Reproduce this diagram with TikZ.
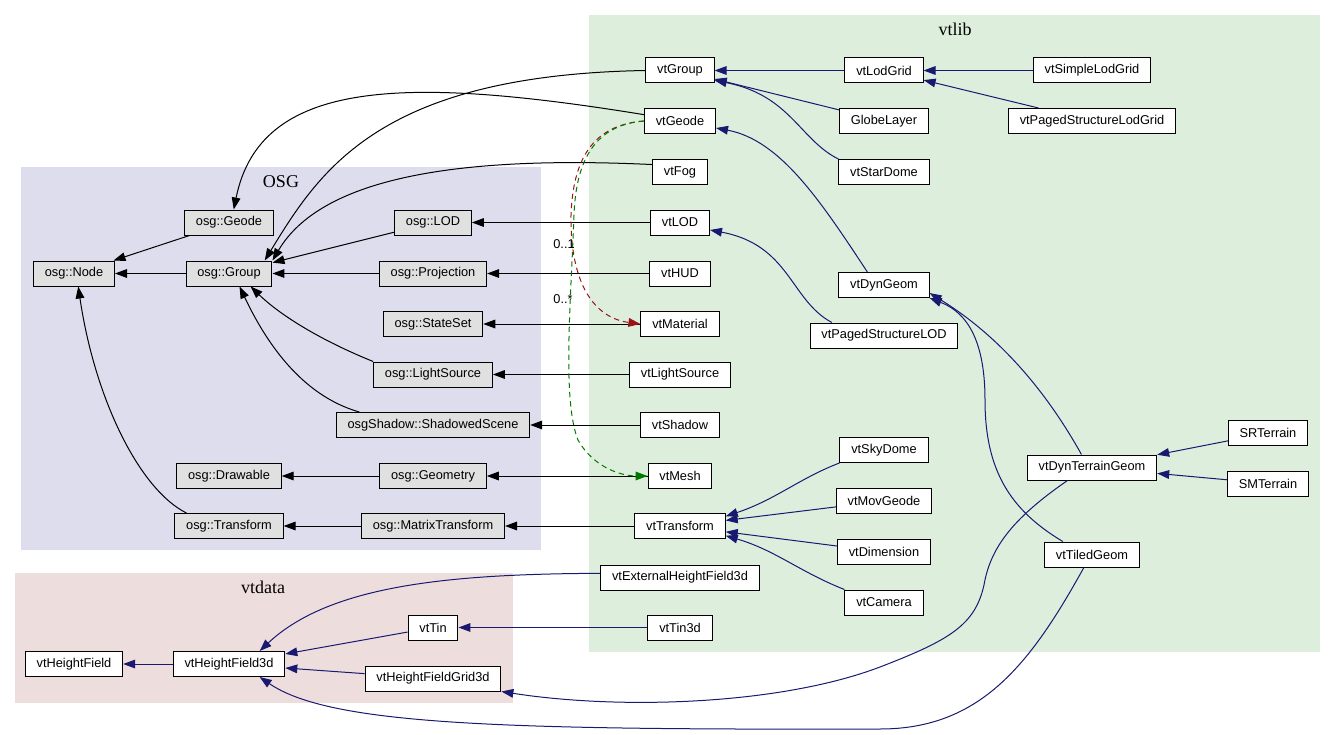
\documentclass[tikz,border=0pt]{standalone}
\usepackage{fontspec}
\setmainfont{Liberation Serif}
\setsansfont{Liberation Sans}
\usetikzlibrary{arrows.meta}
\definecolor{osgbg}{RGB}{221,221,238}
\definecolor{libbg}{RGB}{221,238,221}
\definecolor{databg}{RGB}{238,221,221}
\definecolor{osggray}{RGB}{224,224,224}
\definecolor{navy}{RGB}{25,25,112}
\definecolor{dred}{RGB}{150,20,20}
\definecolor{dgreen}{RGB}{0,120,0}

\begin{document}
\begin{tikzpicture}[
	x=0.75pt, y=-0.75pt,
	font=\sffamily\fontsize{9.6}{11}\selectfont,
	ob/.style={draw, fill=osggray, line width=0.75pt, inner xsep=8.5pt, inner ysep=0pt, minimum height=18.75pt},
	vb/.style={ob, fill=white},
	ca/.style={font=\rmfamily\fontsize{13.5}{15}\selectfont},
	ka/.style={-{Triangle[length=9pt,width=6.5pt]}, line width=0.75pt},
	ma/.style={ka, color=navy},
	ra/.style={ka, color=dred, dash pattern=on 4pt off 3pt},
	ga/.style={ka, color=dgreen, dash pattern=on 4pt off 3pt},
	]
\useasboundingbox (0,0) rectangle (1336,735);
\fill[osgbg] (21,167) rectangle (541,550);
\fill[libbg] (589,15) rectangle (1320,652);
\fill[databg] (15,573) rectangle (513,703);
\node[ca] (tOsg) at (281,182) {OSG};
\node[ca] (tLib) at (955,29) {vtlib};
\node[ca] (tData) at (263,587) {vtdata};

\node[ob] (osgNode) at (74,273.5) {osg::Node};
\node[ob] (osgGeode) at (229,222.5) {osg::Geode};
\node[ob] (osgGroup) at (229,273.5) {osg::Group};
\node[ob] (osgLOD) at (433,222.5) {osg::LOD};
\node[ob] (osgProjection) at (433,273.5) {osg::Projection};
\node[ob] (osgStateSet) at (433,324) {osg::StateSet};
\node[ob] (osgLightSource) at (433,374.5) {osg::LightSource};
\node[ob] (osgShadowedScene) at (433,425) {osgShadow::ShadowedScene};
\node[ob] (osgDrawable) at (229,476) {osg::Drawable};
\node[ob] (osgGeometry) at (433,476) {osg::Geometry};
\node[ob] (osgTransform) at (229,526) {osg::Transform};
\node[ob] (osgMatrixTransform) at (433,526) {osg::MatrixTransform};

\node[vb] (vtGroup) at (680,70.5) {vtGroup};
\node[vb] (vtGeode) at (680,121) {vtGeode};
\node[vb] (vtFog) at (680,172) {vtFog};
\node[vb] (vtLOD) at (680,222.5) {vtLOD};
\node[vb] (vtHUD) at (680,273.5) {vtHUD};
\node[vb] (vtMaterial) at (680,324) {vtMaterial};
\node[vb] (vtLightSource) at (680,374.5) {vtLightSource};
\node[vb] (vtShadow) at (680,425) {vtShadow};
\node[vb] (vtMesh) at (680,476) {vtMesh};
\node[vb] (vtTransform) at (680,526) {vtTransform};
\node[vb] (vtExternalHeightField3d) at (680,577.5) {vtExternalHeightField3d};
\node[vb] (vtTin3d) at (680,627.5) {vtTin3d};
\node[vb] (vtLodGrid) at (884,70.5) {vtLodGrid};
\node[vb] (GlobeLayer) at (884,121) {GlobeLayer};
\node[vb] (vtStarDome) at (884,172) {vtStarDome};
\node[vb] (vtDynGeom) at (884,285) {vtDynGeom};
\node[vb] (vtPagedStructureLOD) at (884,335.5) {vtPagedStructureLOD};
\node[vb] (vtSkyDome) at (884,450) {vtSkyDome};
\node[vb] (vtMovGeode) at (884,501) {vtMovGeode};
\node[vb] (vtDimension) at (884,552) {vtDimension};
\node[vb] (vtCamera) at (884,602.5) {vtCamera};
\node[vb] (vtSimpleLodGrid) at (1092,70.5) {vtSimpleLodGrid};
\node[vb] (vtPagedStructureLodGrid) at (1092,121) {vtPagedStructureLodGrid};
\node[vb] (vtDynTerrainGeom) at (1092,467.5) {vtDynTerrainGeom};
\node[vb] (vtTiledGeom) at (1092,554.5) {vtTiledGeom};
\node[vb] (SRTerrain) at (1268,433) {SRTerrain};
\node[vb] (SMTerrain) at (1268,483.5) {SMTerrain};

\node[vb] (vtHeightField) at (74,664) {vtHeightField};
\node[vb] (vtHeightField3d) at (229,664) {vtHeightField3d};
\node[vb] (vtTin) at (433,627.5) {vtTin};
\node[vb] (vtHeightFieldGrid3d) at (433,678.5) {vtHeightFieldGrid3d};

\foreach \a/\b in {osgGeode/osgNode, osgGroup/osgNode, osgLOD/osgGroup, osgProjection/osgGroup,
	osgGeometry/osgDrawable, osgMatrixTransform/osgTransform, vtLOD/osgLOD, vtHUD/osgProjection,
	vtMaterial/osgStateSet, vtLightSource/osgLightSource, vtShadow/osgShadowedScene,
	vtMesh/osgGeometry, vtTransform/osgMatrixTransform}
	\draw[ka] (\a) -- (\b);
\draw[ka] (vtGroup.west) .. controls (380,75) and (320,170) .. (osgGroup.20);
\draw[ka] (vtGeode.170) .. controls (400,75) and (260,80) .. (osgGeode.70);
\draw[ka] (vtFog.165) .. controls (450,155) and (320,180) .. (osgGroup.north east);
\draw[ka] (osgLightSource.north west) .. controls (320,340) and (280,315) .. (osgGroup.-31);
\draw[ka] (osgShadowedScene.170) .. controls (300,395) and (265,340) .. (osgGroup.-51);
\draw[ka] (osgTransform.163) .. controls (140,490) and (95,400) .. (osgNode.-72);

\foreach \a/\b in {vtLodGrid/vtGroup, GlobeLayer/vtGroup, vtSimpleLodGrid/vtLodGrid,
	vtPagedStructureLodGrid/vtLodGrid, SRTerrain/vtDynTerrainGeom, SMTerrain/vtDynTerrainGeom,
	vtMovGeode/vtTransform, vtDimension/vtTransform, vtTin/vtHeightField3d,
	vtHeightFieldGrid3d/vtHeightField3d, vtHeightField3d/vtHeightField, vtTin3d/vtTin}
	\draw[ma] (\a) -- (\b);
\draw[ma] (vtStarDome.north west) .. controls (800,140) and (790,95) .. (vtGroup.-16);
\draw[ma] (vtDynGeom.142) .. controls (820,200) and (780,140) .. (vtGeode.-11);
\draw[ma] (vtPagedStructureLOD.166) .. controls (790,300) and (790,245) .. (vtLOD.-14);
\draw[ma] (vtDynTerrainGeom.129) .. controls (1040,380) and (990,330) .. (vtDynGeom.-10);
\draw[ma] (vtTiledGeom.156) .. controls (1010,510) and (985,470) .. (985,400)
	.. controls (985,330) and (960,310) .. (vtDynGeom.south east);
\draw[ma] (vtSkyDome.south west) .. controls (800,478) and (775,500) .. (vtTransform.12);
\draw[ma] (vtCamera.north west) .. controls (800,572) and (775,550) .. (vtTransform.-12);
\draw[ma] (vtExternalHeightField3d.177) .. controls (450,574) and (330,585) .. (vtHeightField3d.23);
\draw[ma] (vtDynTerrainGeom.-152) .. controls (1010,520) and (990,550) .. (984,585)
	.. controls (975,625) and (950,640) .. (880,667)
	.. controls (780,705) and (620,710) .. (vtHeightFieldGrid3d.south east);
\draw[ma] (vtTiledGeom.-122) .. controls (1030,665) and (980,729) .. (880,729)
	.. controls (500,730) and (330,725) .. (vtHeightField3d.-23);

% usage links of vtGeode
\draw[ra] (vtGeode.west) .. controls (592,125) and (573,160) .. (571,215)
	.. controls (570,285) and (595,318) .. (vtMaterial.west);
\draw[ga] (vtGeode.west) .. controls (595,125) and (576,160) .. (574,215)
	.. controls (571,300) and (562,400) .. (578,440)
	.. controls (595,470) and (625,476) .. (vtMesh.west);
\node (lOne) at (564,244) {0..1};
\node (lMany) at (563,299) {0..*};
\end{tikzpicture}
\end{document}
